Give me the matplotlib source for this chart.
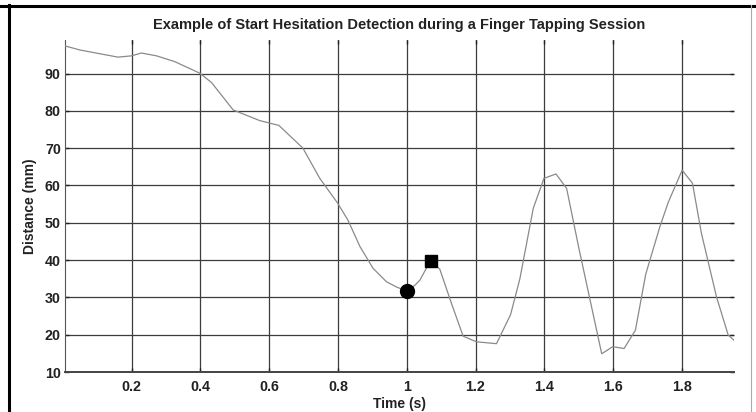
import matplotlib
matplotlib.use("Agg")
import matplotlib.pyplot as plt
from matplotlib.lines import Line2D
import numpy as np

plt.rcParams["font.family"] = ["Liberation Sans", "DejaVu Sans"]
plt.rcParams["font.weight"] = "bold"

# finger distance trace
t = [0.006, 0.05, 0.16, 0.20, 0.228, 0.272, 0.325, 0.398, 0.432, 0.495,
     0.572, 0.628, 0.698, 0.747, 0.798, 0.829, 0.864, 0.902, 0.941, 0.97,
     1.0, 1.023, 1.038, 1.068, 1.096, 1.13, 1.164, 1.203, 1.261, 1.302,
     1.329, 1.368, 1.399, 1.434, 1.465, 1.501, 1.567, 1.599, 1.632, 1.665,
     1.695, 1.736, 1.761, 1.801, 1.831, 1.857, 1.901, 1.935, 1.952]
dist = [97.4, 96.3, 94.4, 94.75, 95.5, 94.75, 93.2, 90.1, 87.6, 80.25,
        77.4, 76.1, 70.0, 61.9, 55.4, 50.7, 43.6, 37.8, 34.2, 32.8,
        31.7, 33.2, 34.6, 39.7, 37.6, 28.4, 19.6, 18.1, 17.6, 25.4,
        35.0, 53.9, 61.9, 63.1, 59.2, 43.0, 14.9, 16.8, 16.3, 21.2,
        36.2, 48.9, 55.6, 64.1, 60.6, 47.2, 30.1, 19.9, 18.5]

# detected events
start_t, start_d = 1.0, 31.8
hes_t, hes_d = 1.07, 39.7

xticks = [0.2, 0.4, 0.6, 0.8, 1.0, 1.2, 1.4, 1.6, 1.8]
xticklabels = ["0.2", "0.4", "0.6", "0.8", "1", "1.2", "1.4", "1.6", "1.8"]
yticks = [10, 20, 30, 40, 50, 60, 70, 80, 90]

fig = plt.figure(figsize=(7.56, 4.12), dpi=100)
ax = fig.add_axes([0.086, 0.097, 0.885, 0.806])

ax.plot(t, dist, '-', color='#8a8a8a', lw=0.9, zorder=3)
ax.plot(start_t, start_d, 'o', color='k', markersize=10, zorder=4)
ax.plot(hes_t, hes_d, 's', color='k', markersize=8.5, zorder=4)

ax.set_xlim(min(t), max(t))
ax.set_ylim(10, 99)
ax.set_xticks(xticks)
ax.set_xticklabels(xticklabels)
ax.set_yticks(yticks)
ax.grid(True, color='#3c3c3c', lw=0.9)
ax.set_axisbelow(True)

ax.tick_params(direction='in', length=3, width=1, top=True, right=True,
               labelsize=10.3, color='#222222')
ax.tick_params(axis='x', pad=6)
ax.tick_params(axis='y', pad=3)
for lab in ax.get_xticklabels() + ax.get_yticklabels():
    lab.set_fontweight('bold')
    lab.set_color('#222222')

ax.spines['top'].set_visible(False)
ax.spines['right'].set_visible(False)
ax.spines['left'].set_color('#555555')
ax.spines['bottom'].set_color('#444444')
ax.spines['bottom'].set_linewidth(1.4)

ax.set_title("Example of Start Hesitation Detection during a Finger Tapping Session",
             fontsize=10.5, fontweight='bold', pad=8, color='#222222')
ax.set_xlabel("Time (s)", fontsize=10, fontweight='bold', labelpad=2, color='#222222')
ax.set_ylabel("Distance (mm)", fontsize=10, fontweight='bold', labelpad=6, color='#222222')

# frame around the picture
fig.add_artist(Line2D([0.0, 1.0], [0.985, 0.985], transform=fig.transFigure,
                      color='k', lw=2.2))
fig.add_artist(Line2D([0.012, 0.012], [0.0, 0.987], transform=fig.transFigure,
                      color='k', lw=2.2))
fig.add_artist(Line2D([0.994, 0.994], [0.0, 0.987], transform=fig.transFigure,
                      color='#aaaaaa', lw=0.8))

fig.savefig("out.png", dpi=100)
